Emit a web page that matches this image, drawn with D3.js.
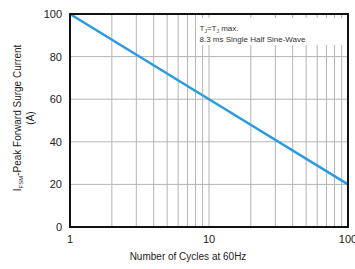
<!DOCTYPE html>
<html>
<head>
<meta charset="utf-8">
<script src="https://cdn.jsdelivr.net/npm/d3@7"></script>
<style>
  body { margin: 0; background: #fff; }
  svg { display: block; font-family: "Liberation Sans", Arial, sans-serif; }
</style>
</head>
<body>
<svg id="chart" width="355" height="269"></svg>
<script>
// surge current vs number of cycles (log x axis)
const cycles = [1, 10, 100];
const surgeCurrent = [100, 60, 20];
const yTicks = [0, 20, 40, 60, 80, 100];
const xTickLabels = [1, 10, 100];

const svg = d3.select("#chart");
const plotL = 70, plotR = 348, plotT = 14, plotB = 227;

const x = d3.scaleLog().domain([1, 100]).range([plotL, plotR]);
const y = d3.scaleLinear().domain([0, 100]).range([plotB, plotT]);

// minor vertical grid
const minor = [];
for (let d = 1; d <= 10; d *= 10) for (let k = 2; k <= 9; k++) minor.push(k * d);
minor.push(10);
svg.append("g").selectAll("line").data(minor).join("line")
  .attr("x1", (d) => x(d)).attr("x2", (d) => x(d))
  .attr("y1", plotT).attr("y2", plotB)
  .attr("stroke", "#b4b4b4").attr("stroke-width", 1);

svg.append("g").selectAll("line").data(yTicks.slice(1, -1)).join("line")
  .attr("x1", plotL).attr("x2", plotR)
  .attr("y1", (d) => y(d)).attr("y2", (d) => y(d))
  .attr("stroke", "#b4b4b4").attr("stroke-width", 1);

// annotation box covers grid
svg.append("rect")
  .attr("x", x(8) + 1).attr("y", 18)
  .attr("width", x(95) - x(8)).attr("height", 27)
  .attr("fill", "#fff");
const note = svg.append("g").attr("font-size", 8).attr("fill", "#333");
const t1 = note.append("text").attr("x", x(8) + 4).attr("y", 31);
t1.append("tspan").text("T");
t1.append("tspan").attr("font-size", 5).attr("dy", 2).text("J");
t1.append("tspan").attr("dy", -2).text("=T");
t1.append("tspan").attr("font-size", 5).attr("dy", 2).text("J");
t1.append("tspan").attr("dy", -2).text(" max.");
note.append("text").attr("x", x(8) + 4).attr("y", 42).text("8.3 ms Single Half Sine-Wave");

// curve
const pts = cycles.map((c, i) => [c, surgeCurrent[i]]);
svg.append("path")
  .attr("d", d3.line().x((d) => x(d[0])).y((d) => y(d[1]))(pts))
  .attr("fill", "none").attr("stroke", "#2a9be2").attr("stroke-width", 2.5);

// frame
svg.append("rect")
  .attr("x", plotL).attr("y", plotT)
  .attr("width", plotR - plotL).attr("height", plotB - plotT)
  .attr("fill", "none").attr("stroke", "#111").attr("stroke-width", 2);

// tick labels
svg.append("g").attr("font-size", 11).attr("fill", "#222").attr("text-anchor", "end")
  .selectAll("text").data(yTicks).join("text")
  .attr("x", plotL - 8).attr("y", (d) => y(d) + 4).text((d) => d);
svg.append("g").attr("font-size", 11).attr("fill", "#222").attr("text-anchor", "middle")
  .selectAll("text").data(xTickLabels).join("text")
  .attr("x", (d) => x(d)).attr("y", 243).text((d) => d);

// axis titles
svg.append("text").attr("x", 188).attr("y", 260).attr("text-anchor", "middle")
  .attr("font-size", 10).attr("fill", "#222").text("Number of Cycles at 60Hz");

const yl = svg.append("g").attr("transform", "translate(21,118) rotate(-90)")
  .attr("font-size", 10).attr("fill", "#222").attr("text-anchor", "middle");
const l1 = yl.append("text").attr("y", 0);
l1.append("tspan").text("I");
l1.append("tspan").attr("font-size", 6).attr("dy", 2).text("FSM");
l1.append("tspan").attr("dy", -2).text("-Peak Forward Surge Current");
yl.append("text").attr("y", 13).text("(A)");
</script>
</body>
</html>
